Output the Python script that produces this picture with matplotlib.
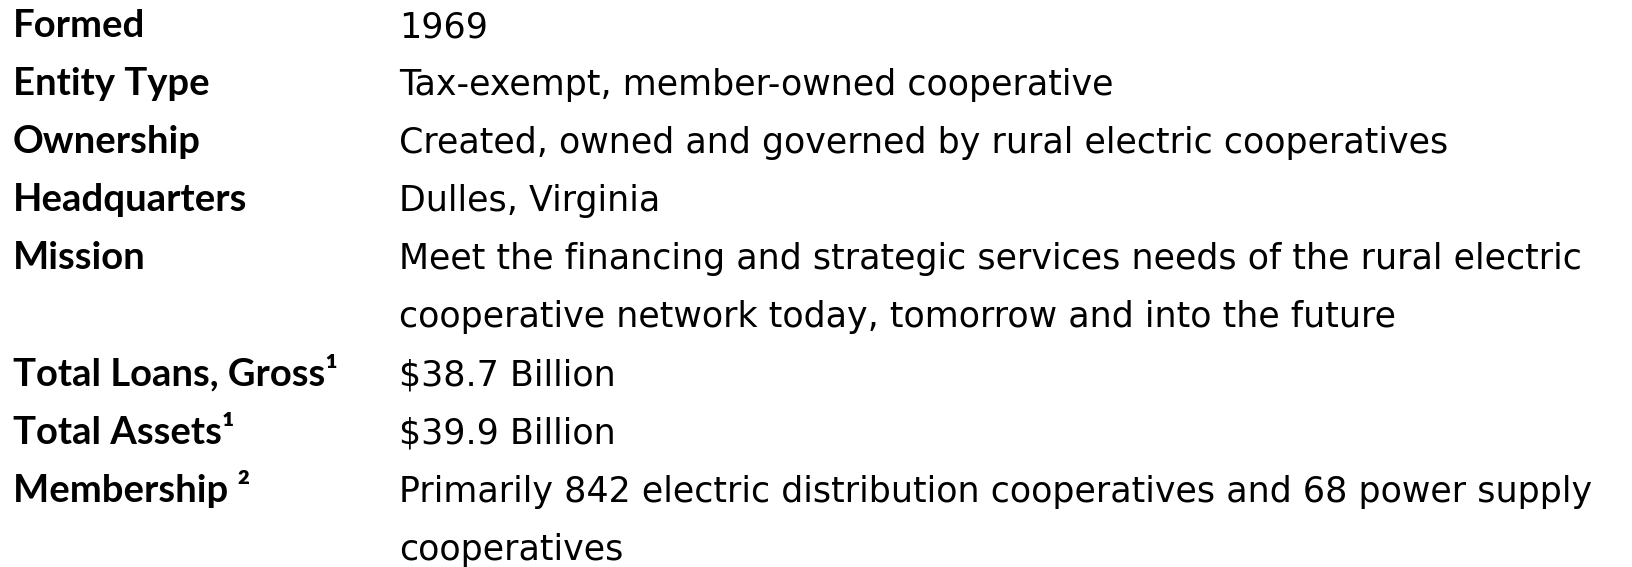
import matplotlib
matplotlib.use("Agg")
import matplotlib.pyplot as plt

# table rows: label, value lines
labels = ["Formed", "Entity Type", "Ownership", "Headquarters", "Mission",
          "Total Loans, Gross\u00b9", "Total Assets\u00b9", "Membership \u00b2"]
values = [
    ["1969"],
    ["Tax-exempt, member-owned cooperative"],
    ["Created, owned and governed by rural electric cooperatives"],
    ["Dulles, Virginia"],
    ["Meet the financing and strategic services needs of the rural electric",
     "cooperative network today, tomorrow and into the future"],
    ["$38.7 Billion"],
    ["$39.9 Billion"],
    ["Primarily 842 electric distribution cooperatives and 68 power supply",
     "cooperatives"],
]

W, H = 1632, 567
fig = plt.figure(figsize=(W / 100, H / 100), dpi=100)
ax = fig.add_axes([0, 0, 1, 1])
ax.set_xlim(0, W)
ax.set_ylim(H, 0)
ax.axis("off")

first_base = 37
step = 58.1
left_x, right_x = 13, 399

line = 0
for lab, vals in zip(labels, values):
    y = first_base + line * step
    ax.text(left_x, y, lab, fontsize=27.5, fontweight="bold", family=["Lato", "DejaVu Sans"],
            va="baseline", ha="left", color="black")
    for v in vals:
        y = first_base + line * step
        ax.text(right_x, y, v, fontsize=25.1, family="DejaVu Sans",
                va="baseline", ha="left", color="black")
        line += 1

fig.savefig("out.png", dpi=100)
